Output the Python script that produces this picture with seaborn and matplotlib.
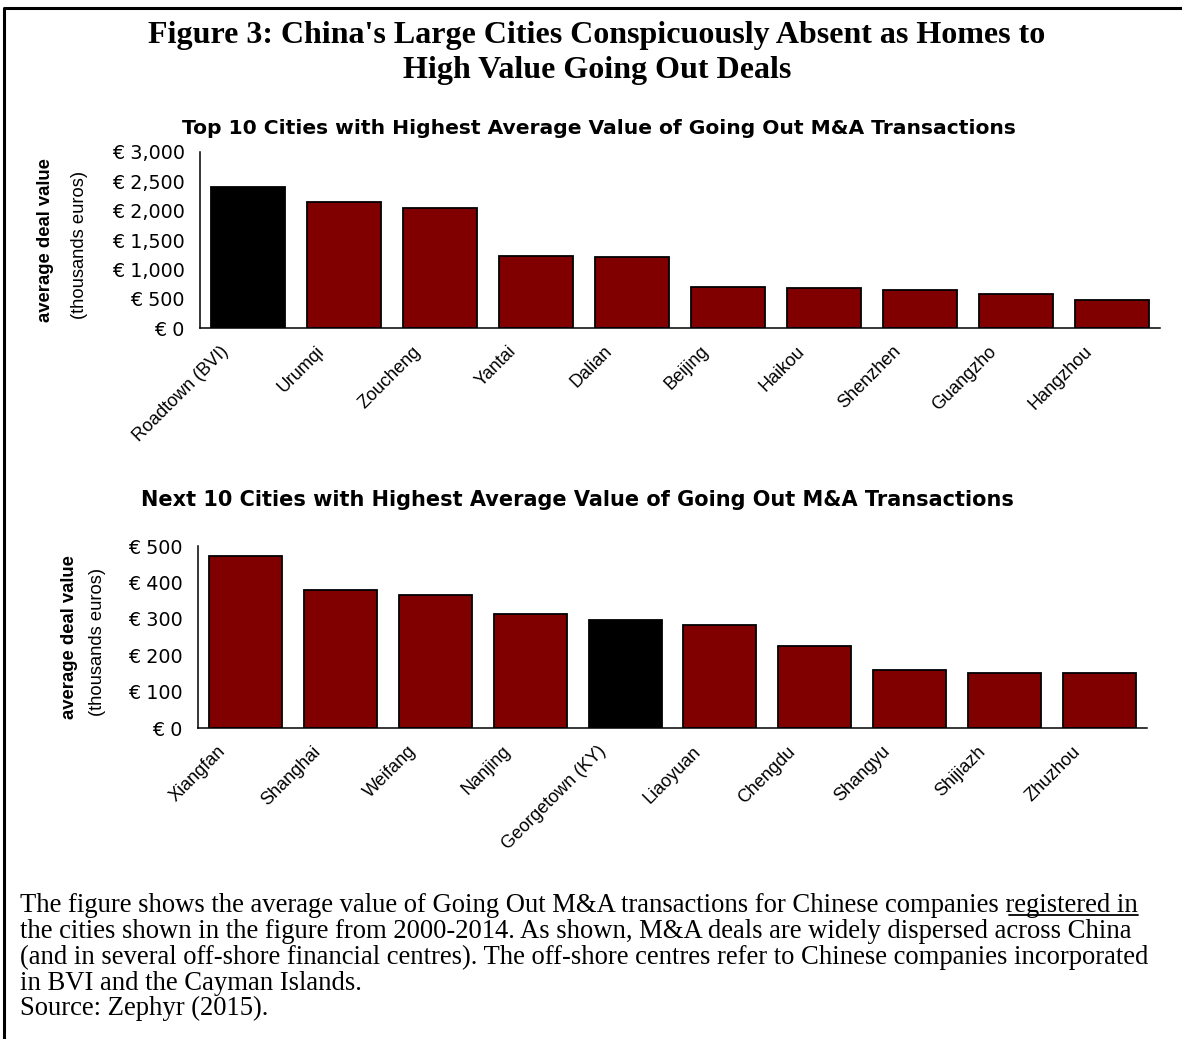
import matplotlib
matplotlib.use("Agg")
import numpy as np
import pandas as pd
import matplotlib.pyplot as plt
import matplotlib.transforms as mtransforms
import seaborn as sns
from matplotlib.lines import Line2D
from matplotlib.ticker import FuncFormatter, MultipleLocator

# Données (milliers d'euros)
top_cities = ["Roadtown (BVI)", "Urumqi", "Zoucheng", "Yantai", "Dalian",
              "Beijing", "Haikou", "Shenzhen", "Guangzho", "Hangzhou"]
top_values = [2400, 2150, 2045, 1235, 1205, 705, 675, 655, 580, 470]

next_cities = ["Xiangfan", "Shanghai", "Weifang", "Nanjing", "Georgetown (KY)",
               "Liaoyuan", "Chengdu", "Shangyu", "Shijiazh", "Zhuzhou"]
next_values = [472, 379, 366, 314, 296, 282, 225, 159, 151, 150]

offshore = ["Roadtown (BVI)", "Georgetown (KY)"]

main_title = ("Figure 3: China's Large Cities Conspicuously Absent as Homes to\n"
              "High Value Going Out Deals")
top_title = "Top 10 Cities with Highest Average Value of Going Out M&A Transactions"
next_title = "Next 10 Cities with Highest Average Value of Going Out M&A Transactions"
caption_lines = [
    "The figure shows the average value of Going Out M&A transactions for Chinese companies registered in",
    "the cities shown in the figure from 2000-2014. As shown, M&A deals are widely dispersed across China",
    "(and in several off-shore financial centres). The off-shore centres refer to Chinese companies incorporated",
    "in BVI and the Cayman Islands.",
    "Source: Zephyr (2015).",
]
underlined = "registered in"

RED = "#800000"
W, H = 1182, 1039
SERIF = ["Liberation Serif", "DejaVu Serif"]
WIDE = ["DejaVu Sans"]

sns.set_theme(style="white")
plt.rcParams["font.family"] = ["Liberation Sans", "DejaVu Sans"]
for k in ["text.color", "axes.labelcolor", "xtick.color", "ytick.color", "axes.edgecolor"]:
    plt.rcParams[k] = "black"

fig = plt.figure(figsize=(W / 100, H / 100), dpi=100)
fig.patch.set_facecolor("white")


def px_box(x0, y0, x1, y1):
    # pixels (haut-gauche) -> fractions de figure
    return [x0 / W, 1 - y1 / H, (x1 - x0) / W, (y1 - y0) / H]


def draw_panel(ax, cities, values, ymax, step, title, title_xy, title_fs, lab_x):
    df = pd.DataFrame({"city": cities, "value": values})
    pal = {c: ("black" if c in offshore else RED) for c in cities}
    sns.barplot(data=df, x="city", y="value", hue="city", palette=pal,
                legend=False, width=0.77, saturation=1,
                edgecolor="black", linewidth=1.3, ax=ax)
    ax.set_xlim(-0.5, len(cities) - 0.5)
    ax.set_ylim(0, ymax)
    ax.yaxis.set_major_locator(MultipleLocator(step))
    ax.yaxis.set_major_formatter(FuncFormatter(lambda v, p: "€ {:,.0f}".format(v)))
    ax.set_xlabel("")
    ax.set_ylabel("")
    for s in ["top", "right"]:
        ax.spines[s].set_visible(False)
    for s in ["left", "bottom"]:
        ax.spines[s].set_linewidth(1.1)
    ax.set_xticks(np.arange(-0.5, len(cities), 1), minor=True)
    ax.tick_params(axis="x", which="major", length=0, pad=15, labelsize=13)
    ax.tick_params(axis="x", which="minor", length=4, width=1, direction="out")
    ax.tick_params(axis="y", which="major", length=4, width=1,
                   direction="out", labelsize=13.8, pad=7)
    ax.tick_params(axis="y", which="minor", length=0)
    for lab in ax.get_yticklabels():
        lab.set_family(WIDE)
    shift = mtransforms.ScaledTranslation(-0.22, 0, fig.dpi_scale_trans)
    for lab in ax.get_xticklabels():
        lab.set_rotation(45)
        lab.set_ha("right")
        lab.set_va("center")
        lab.set_rotation_mode("anchor")
        lab.set_transform(lab.get_transform() + shift)
    fig.text(title_xy[0] / W, 1 - title_xy[1] / H, title, ha="center", va="center",
             fontsize=title_fs, fontweight="bold", family=WIDE)
    yc = 0.5 * (ax.get_position().y0 + ax.get_position().y1)
    fig.text(lab_x[0] / W, yc, "average deal value", rotation=90, ha="center", va="center",
             fontsize=13.3, fontweight="bold")
    fig.text(lab_x[1] / W, yc - 5 / H, "(thousands euros)", rotation=90, ha="center",
             va="center", fontsize=13.2)


ax1 = fig.add_axes(px_box(200, 152, 1160, 328))
draw_panel(ax1, top_cities, top_values, 3000, 500, top_title, (599, 128), 14.6, (45, 79))

ax2 = fig.add_axes(px_box(198, 546, 1147, 728))
draw_panel(ax2, next_cities, next_values, 500, 100, next_title, (577, 500), 15, (69, 98))

# Titre principal
fig.text(597 / W, 1 - 53 / H, main_title, ha="center", va="center",
         fontsize=23, fontweight="bold", family=SERIF, linespacing=1.3)

# Texte sous la figure
FS = 19.2
baselines = [912, 938, 964, 990, 1015]
cap_texts = []
for line, yb in zip(caption_lines, baselines):
    t = fig.text(20 / W, 1 - yb / H, line, ha="left", va="baseline",
                 fontsize=FS, family=SERIF)
    cap_texts.append(t)

# Soulignement de "registered in"
fig.canvas.draw()
renderer = fig.canvas.get_renderer()
first = caption_lines[0]
prefix = first[: first.index(underlined)]
tmp = fig.text(20 / W, 1 - baselines[0] / H, prefix, ha="left", va="baseline",
               fontsize=FS, family=SERIF)
x_start = tmp.get_window_extent(renderer).x1
tmp.remove()
x_end = cap_texts[0].get_window_extent(renderer).x1
y_line = H - baselines[0] - 3
fig.add_artist(Line2D([x_start / W + 4 / W, x_end / W], [y_line / H, y_line / H],
                      transform=fig.transFigure, color="black", lw=1.3))

# Cadre
fig.add_artist(Line2D([4 / W, 4 / W, 1], [0, 1 - 8 / H, 1 - 8 / H],
                      transform=fig.transFigure, color="black", lw=2.2))

fig.savefig("out.png", dpi=100, facecolor="white")
